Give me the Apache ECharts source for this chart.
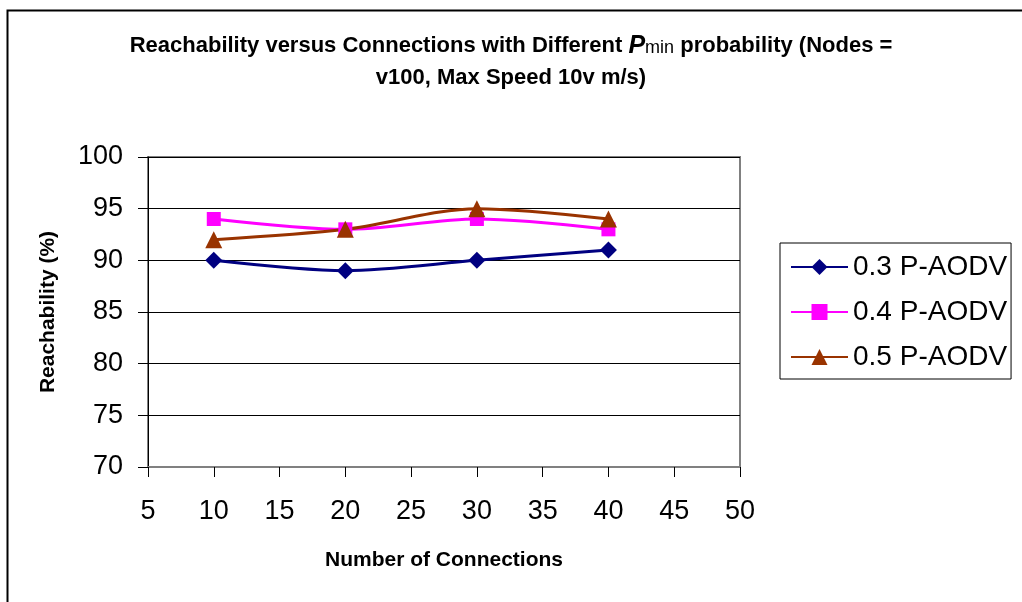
<!DOCTYPE html>
<html><head><meta charset="utf-8">
<script src="https://cdn.jsdelivr.net/npm/echarts@6/dist/echarts.min.js"></script>
<style>html,body{margin:0;padding:0;background:#fff}#c{width:1022px;height:602px}</style>
</head><body><div id="c"></div>
<script>
const connections = [10, 20, 30, 40];
const p03 = [90, 89, 90, 91];
const p04 = [94, 93, 94, 93];
const p05 = [92, 93, 95, 94];
const seriesNames = ['0.3 P-AODV', '0.4 P-AODV', '0.5 P-AODV'];

const chart = echarts.init(document.getElementById('c'));
const F = 'Liberation Sans, Arial, sans-serif';
function pts(v){ return connections.map((x,i)=>[x,v[i]]); }
chart.setOption({
  animation: false,
  graphic: [{type:'rect', shape:{x:7.5,y:10.5,width:1040,height:620}, style:{fill:'none', stroke:'#000', lineWidth:2}, z:-1}],
  title: {
    text: '{b|Reachability versus Connections with Different }{p|P}{m|min}{b| probability (Nodes =}\n{b|v100, Max Speed 10v m/s)}',
    left: 'center', top: 25,
    textStyle: {
      rich: {
        b: {fontFamily:F, fontWeight:'bold', fontSize:22, color:'#000', lineHeight:32},
        p: {fontFamily:F, fontWeight:'bold', fontStyle:'italic', fontSize:25, color:'#000', lineHeight:32},
        m: {fontFamily:F, fontWeight:'normal', fontSize:18, color:'#000', lineHeight:32, padding:[5,0,0,0]}
      }
    }
  },
  legend: {
    orient: 'vertical', left: 780, top: 243,
    data: seriesNames,
    itemWidth: 57, itemHeight: 20, itemGap: 17,
    padding: [10, 4, 8, 10],
    borderColor: '#000', borderWidth: 1,
    textStyle: {fontFamily:F, fontSize:28, color:'#000'}
  },
  grid: {left:148, right:282, top:157, bottom:135, show:true, borderColor:'#808080', borderWidth:2, backgroundColor:'#fff'},
  xAxis: {
    type:'value', min:5, max:50, interval:5,
    name:'Number of Connections', nameLocation:'middle', nameGap:83,
    nameTextStyle:{fontFamily:F, fontWeight:'bold', fontSize:21, color:'#000'},
    axisLine:{lineStyle:{color:'#808080', width:2}},
    axisTick:{show:true, length:10, lineStyle:{color:'#000', width:1}},
    axisLabel:{fontFamily:F, fontSize:27, color:'#000', margin:31},
    splitLine:{show:false}
  },
  yAxis: {
    type:'value', min:70, max:100, interval:5,
    name:'Reachability (%)', nameLocation:'middle', nameGap:89,
    nameTextStyle:{fontFamily:F, fontWeight:'bold', fontSize:21, color:'#000'},
    axisLine:{show:true, lineStyle:{color:'#000', width:1}},
    axisTick:{show:true, length:10, lineStyle:{color:'#000'}},
    axisLabel:{fontFamily:F, fontSize:27, color:'#000', margin:25},
    splitLine:{show:true, lineStyle:{color:'#000', width:1}}
  },
  series: [
    {name:seriesNames[0], type:'line', data:pts(p03), smooth:0.3, symbol:'diamond', symbolSize:17,
     lineStyle:{color:'#000080', width:3}, itemStyle:{color:'#000080'}},
    {name:seriesNames[1], type:'line', data:pts(p04), smooth:0.3, symbol:'rect', symbolSize:14,
     lineStyle:{color:'#FF00FF', width:3}, itemStyle:{color:'#FF00FF'}},
    {name:seriesNames[2], type:'line', data:pts(p05), smooth:0.3, symbol:'triangle', symbolSize:17,
     lineStyle:{color:'#993300', width:3}, itemStyle:{color:'#993300'}}
  ]
});
</script></body></html>
